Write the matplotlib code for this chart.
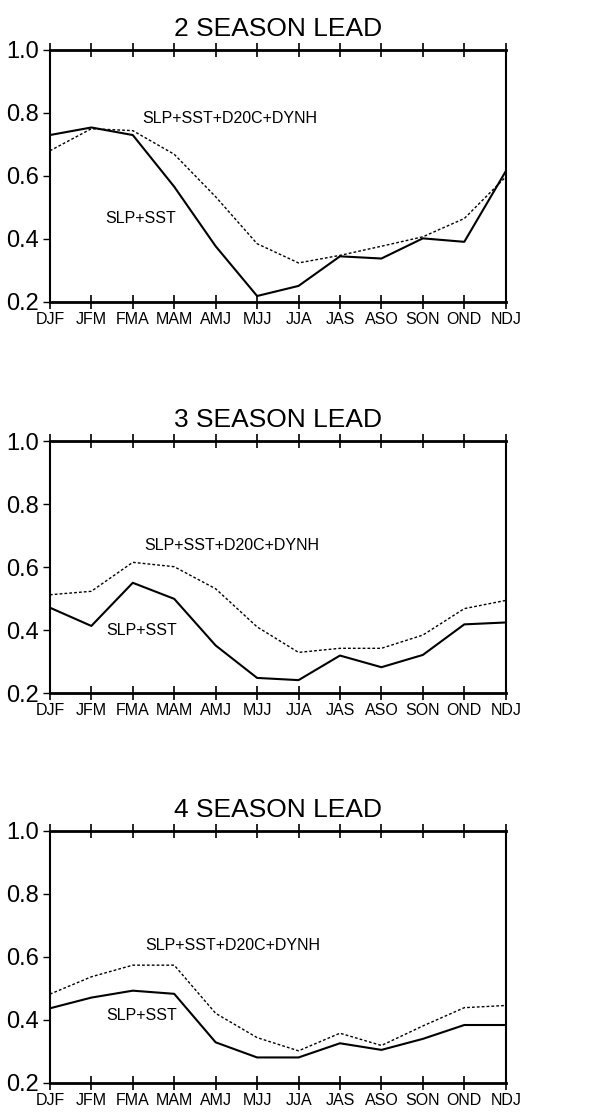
import matplotlib.pyplot as plt
import numpy as np

plt.rcParams['font.family'] = ['Liberation Sans', 'DejaVu Sans']

seasons = ['DJF', 'JFM', 'FMA', 'MAM', 'AMJ', 'MJJ', 'JJA', 'JAS', 'ASO', 'SON', 'OND', 'NDJ']
titles = ['2 SEASON LEAD', '3 SEASON LEAD', '4 SEASON LEAD']

# SLP+SST (solid)
slp_sst_2 = [0.730, 0.754, 0.730, 0.566, 0.377, 0.219, 0.251, 0.345, 0.338, 0.402, 0.391, 0.615]
slp_sst_3 = [0.471, 0.413, 0.550, 0.499, 0.351, 0.248, 0.241, 0.319, 0.282, 0.321, 0.418, 0.424]
slp_sst_4 = [0.437, 0.471, 0.493, 0.483, 0.329, 0.281, 0.281, 0.326, 0.305, 0.340, 0.384, 0.384]

# SLP+SST+D20C+DYNH (dashed)
full_2 = [0.680, 0.750, 0.744, 0.669, 0.534, 0.385, 0.324, 0.348, 0.377, 0.407, 0.465, 0.597]
full_3 = [0.512, 0.523, 0.615, 0.601, 0.531, 0.410, 0.329, 0.342, 0.342, 0.384, 0.468, 0.494]
full_4 = [0.482, 0.537, 0.574, 0.574, 0.421, 0.344, 0.302, 0.358, 0.319, 0.381, 0.439, 0.446]

yticks = [0.2, 0.4, 0.6, 0.8, 1.0]

# label anchor (x index, y) per panel
lab_full = [(2.22, 0.783), (2.27, 0.667), (2.29, 0.635)]
lab_slp = [(1.33, 0.465), (1.35, 0.397), (1.37, 0.413)]

solid = [slp_sst_2, slp_sst_3, slp_sst_4]
dashed = [full_2, full_3, full_4]

fig = plt.figure(figsize=(6.16, 11.16), dpi=100)
bottoms = [0.7294, 0.379, 0.0296]
x = np.arange(len(seasons))

for i in range(3):
    ax = fig.add_axes([0.081, bottoms[i], 0.740, 0.2258])
    ax.plot(x, solid[i], color='black', lw=1.5)
    ax.plot(x, dashed[i], color='black', lw=1.0, linestyle=(0, (2, 1.5)))
    ax.set_xlim(0, 11)
    ax.set_ylim(0.2, 1.0)
    ax.set_xticks(x)
    ax.set_xticklabels(seasons, fontsize=11.5)
    ax.set_yticks(yticks)
    ax.set_yticklabels(['%.1f' % v for v in yticks], fontsize=17)
    ax.tick_params(axis='x', direction='inout', length=10, width=1.2, top=True, pad=2)
    ax.tick_params(axis='y', direction='out', length=5, width=1.0, pad=3)
    for s in ['top', 'bottom']:
        ax.spines[s].set_linewidth(2.0)
    for s in ['left', 'right']:
        ax.spines[s].set_linewidth(1.5)
    ax.set_title(titles[i], fontsize=19, pad=10)
    ax.text(lab_full[i][0], lab_full[i][1], 'SLP+SST+D20C+DYNH', fontsize=11.5, va='center', ha='left')
    ax.text(lab_slp[i][0], lab_slp[i][1], 'SLP+SST', fontsize=11.5, va='center', ha='left')

plt.savefig('out.png', dpi=100)
